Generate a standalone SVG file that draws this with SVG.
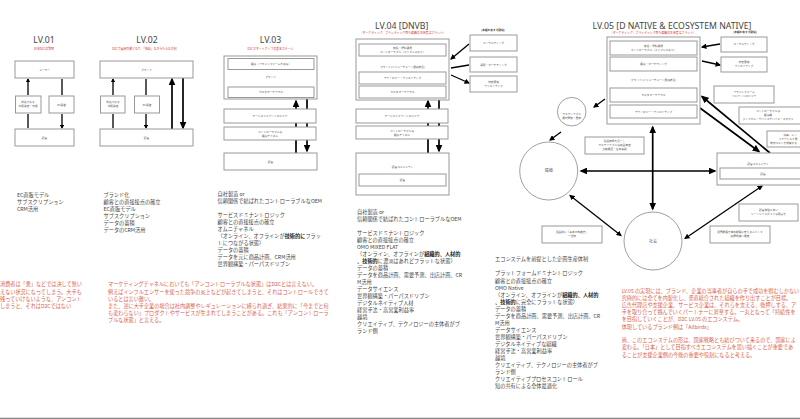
<svg xmlns="http://www.w3.org/2000/svg" width="800" height="419" viewBox="0 0 800 419">
<style>
text{font-family:"Noto Sans CJK JP","Noto Sans",sans-serif}
.t{font-size:8.7px;fill:#444;text-anchor:middle;font-family:"Noto Sans","Noto Sans CJK JP",sans-serif}
.s{font-size:2.9px;fill:#d0342c;text-anchor:middle}
.l{font-size:5.2px;fill:#444}
.r{font-size:5.15px;fill:#d8604a}
.b{font-size:2.7px;fill:#555;text-anchor:middle}
.h{font-size:2.7px;fill:#333;text-anchor:middle;font-weight:700}
.n rect{fill:#fff;stroke:#999;stroke-width:1}
circle.c{fill:#fff;stroke:#777;stroke-width:.7}
.bd{font-weight:700;fill:#222}
.a1{stroke:#000;stroke-width:1.3;fill:none;marker-start:url(#hs);marker-end:url(#hs)}
.a2{stroke:#000;stroke-width:1.3;fill:none;marker-start:url(#hm);marker-end:url(#hm)}
.a3{stroke:#000;stroke-width:1.7;fill:none}
.up{marker-end:url(#hl)}
.st{marker-start:url(#hl)}
</style>
<defs>
<marker id="hs" viewBox="0 0 10 10" refX="8" refY="5" markerUnits="userSpaceOnUse" markerWidth="4" markerHeight="4.6" orient="auto-start-reverse" preserveAspectRatio="none"><path d="M0 0L10 5L0 10Z"/></marker>
<marker id="hm" viewBox="0 0 10 10" refX="8" refY="5" markerUnits="userSpaceOnUse" markerWidth="5.5" markerHeight="5.5" orient="auto-start-reverse" preserveAspectRatio="none"><path d="M0 0L10 5L0 10Z"/></marker>
<marker id="hl" viewBox="0 0 10 10" refX="8" refY="5" markerUnits="userSpaceOnUse" markerWidth="8" markerHeight="7" orient="auto-start-reverse" preserveAspectRatio="none"><path d="M0 0L10 5L0 10Z"/></marker>
</defs>
<rect width="800" height="419" fill="#fff"/>

<g id="connectors">
<path class="a1" d="M28 79V95M62 79V95M28 114V128M62 114V128"/>
<path class="a1" d="M113 79V95M146 79V95M113 114V128M146 114V128"/>
<path class="a3 up" d="M172 129V79"/>
<path class="a3 up" d="M183 78V128"/>
<path class="a3 up" d="M296 153V101"/>
<path class="a3 up" d="M307 99V151"/>
<path class="a3 up" d="M428 153V101"/>
<path class="a3 up" d="M439 100V151"/>
<path class="a2" d="M451 59L469 44M451 68L469 65M451 75L469 83"/>
<path class="a2" d="M594 107L605 99M561 132L550 140"/>
<path class="a2" d="M702 47L720 44M702 61L720 65"/>
<path class="a3 st" d="M702 96.500L770 153"/>
<path class="a3 up" d="M700 108L759 151.500"/>
<path class="a3 st up" d="M581 171H715"/>
<path class="a3 st up" d="M652.700 127V209"/>
<path class="a2" d="M570 195.500L621 235.500"/>
<path class="a2" d="M685 238.500L762 186"/>
</g>

<g id="lv01">
<text class="t" x="44" y="43">LV.01</text>
<text class="s" x="44" y="50">日本D2Cの黎明</text>
<g id="lv01-maker" class="n"><rect x="15" y="61" width="59" height="17"/><text class="b" x="44.500" y="70.500">メーカー</text></g>
<g id="lv01-retail" class="n"><rect x="15.500" y="96" width="25.500" height="17"/><text class="b" x="28" y="103">卸先である</text><text class="b" x="28" y="107">中間業者・流通</text></g>
<g id="lv01-ec" class="n"><rect x="49" y="96" width="25" height="17"/><text class="b" x="61.500" y="105.500">EC運営</text></g>
<g id="lv01-customer" class="n"><rect x="15" y="129" width="59" height="17"/><text class="b" x="44.500" y="138.500">顧客</text></g>
<text class="l"><tspan x="17" y="196.500">EC直販モデル</tspan><tspan x="17" y="204">サブスクリプション</tspan><tspan x="17" y="211">CRM活用</tspan></text>
<text class="r"><tspan x="0" y="286">消費者は「悪」などでは決して無い</tspan><tspan x="0" y="293.500">えない状況になってしまう。大手も</tspan><tspan x="0" y="300.500">残っていけないような、アンコント</tspan><tspan x="0" y="307.500">しまうと、それはD2Cではない</tspan></text>
</g>

<g id="lv02">
<text class="t" x="147" y="43">LV.02</text>
<text class="s" x="144.500" y="50">D2Cで展開可能となり、「独自」ながらもんな方向</text>
<g id="lv02-brand" class="n"><rect x="100" y="61" width="93" height="17"/><text class="b" x="146.500" y="70.500">ブランド</text></g>
<g id="lv02-retail" class="n"><rect x="100.500" y="96" width="24.500" height="17"/><text class="b" x="113" y="103">卸先である</text><text class="b" x="113" y="107">中間業者</text></g>
<g id="lv02-ec" class="n"><rect x="134.500" y="96" width="25" height="17"/><text class="b" x="147" y="105.500">EC運営</text></g>
<g id="lv02-customer" class="n"><rect x="100" y="129" width="93" height="17"/><text class="b" x="146.500" y="138.500">顧客</text></g>
<text class="l"><tspan x="103.500" y="197">ブランド化</tspan><tspan x="103.500" y="204">顧客との直接接点の確立</tspan><tspan x="103.500" y="211">EC直販モデル</tspan><tspan x="103.500" y="218">サブスクリプション</tspan><tspan x="103.500" y="225">データの蓄積</tspan><tspan x="103.500" y="232">データのCRM活用</tspan></text>
<text class="r"><tspan x="108" y="286">マーケティングチャネルにおいても「アンコントローラブルな状態」はD2Cとは言えない。</tspan><tspan x="108" y="293.500">例えばインフルエンサーを使った競争の炎上などが起きてしまうと、それはコントロールできて</tspan><tspan x="108" y="300.500">いるとは言い難い。</tspan><tspan x="108" y="307.500">また、逆に大手企業の場合は社内調整やレギュレーションに縛られ過ぎ、結果的に「今までと何</tspan><tspan x="108" y="314.500">も変わらない」プロダクトやサービスが生まれてしまうことがある。これも「アンコントローラ</tspan><tspan x="108" y="322">ブルな状態」と言える。</tspan></text>
</g>

<g id="lv03">
<text class="t" x="270.500" y="43">LV.03</text>
<text class="s" x="270.500" y="50">D2Cスタートアップの基本ステージ</text>
<g id="lv03-brand" class="n"><rect x="224" y="56" width="93" height="43"/><text class="b" x="270.500" y="78">ブランド</text></g>
<g id="lv03-sales" class="n"><rect x="228" y="58.500" width="86" height="11"/><text class="b" x="271" y="65">販売（プラットフォーム不適な）</text></g>
<g id="lv03-cs" class="n"><rect x="228" y="87" width="86" height="10.500"/><text class="b" x="271" y="93">カスタマーサクセス</text></g>
<g id="lv03-sdl" class="n"><rect x="224" y="109" width="92" height="14"/><text class="b" x="270" y="117">サービスドミナントロジック</text></g>
<g id="lv03-channel" class="n"><rect x="224" y="127" width="92" height="13"/><text class="b" x="270" y="132.500">コントローラブルな</text><text class="b" x="270" y="136.500">販売チャネル</text></g>
<g id="lv03-customer" class="n"><rect x="224" y="153" width="93" height="17"/><text class="b" x="270.500" y="162.500">顧客</text></g>
<text class="l"><tspan x="217.500" y="196">自社製造 or</tspan><tspan x="217.500" y="203">信頼関係で結ばれたコントローラブルなOEM</tspan><tspan x="217.500" y="216.800">サービスドミナントロジック</tspan><tspan x="217.500" y="224">顧客との直接接点の確立</tspan><tspan x="217.500" y="231">オムニチャネル</tspan><tspan x="217.500" y="238.300">（オンライン、オフラインが<tspan class="bd">技術的に</tspan>フラッ</tspan><tspan x="217.500" y="245.300">トにつながる状態）</tspan><tspan x="217.500" y="252.300">データの蓄積</tspan><tspan x="217.500" y="259.300">データを元に商品計画、CRM活用</tspan><tspan x="217.500" y="266.300">世界観構築・パーパスドリブン</tspan></text>
</g>

<g id="lv04">
<text class="t" x="401.700" y="28.500">LV.04 [DNVB]</text>
<text class="s" x="402.700" y="34">（マーケティング、ブランディング面も組織の主体者はブランド）</text>
<g id="lv04-brand" class="n"><rect x="356" y="39" width="93" height="61"/><text class="b" x="402.500" y="68">ブランド(バリューチェーン最適統合)</text></g>
<g id="lv04-source" class="n"><rect x="359" y="44" width="87" height="12"/><text class="b" x="402.500" y="49">取扱・原料調達</text><text class="b" x="402.500" y="53">コントローラブル（ファブレスあり）</text></g>
<g id="lv04-tech" class="n"><rect x="359" y="72" width="87" height="12"/><text class="b" x="402.500" y="79">テクノロジー・クリエイティブ</text></g>
<g id="lv04-cs" class="n"><rect x="359" y="86" width="87" height="12"/><text class="b" x="402.500" y="93">カスタマーサクセス</text></g>
<g id="lv04-sdl" class="n"><rect x="356" y="109" width="92" height="14"/><text class="b" x="402" y="117">サービスドミナントロジック</text></g>
<g id="lv04-channel" class="n"><rect x="356" y="126" width="92" height="13"/><text class="b" x="402" y="131.500">コントローラブルな</text><text class="b" x="402" y="135.500">販売チャネル</text></g>
<g id="lv04-community" class="n"><rect x="356" y="153" width="93" height="42"/><text class="b" x="402.500" y="168">顧客コミュニティ</text></g>
<g id="lv04-customer" class="n"><rect x="359" y="174" width="87" height="12"/><text class="b" x="402.500" y="181">顧客</text></g>
<text class="h" x="493" y="31">(実績を有する領域)</text>
<g id="lv04-consult" class="n"><rect x="470" y="35" width="47" height="16"/><text class="b" x="493.500" y="44">コンサルティング</text></g>
<g id="lv04-marketing" class="n"><rect x="470" y="57" width="47" height="15"/><text class="b" x="493.500" y="65.500">運用・マーケティング</text></g>
<g id="lv04-creative" class="n"><rect x="470" y="76" width="47" height="16"/><text class="b" x="493.500" y="83">特定領域</text><text class="b" x="493.500" y="87">クリエイティブ</text></g>
<text class="l"><tspan x="357" y="213.600">自社製造 or</tspan><tspan x="357" y="221">信頼関係で結ばれたコントローラブルなOEM</tspan><tspan x="357" y="235">サービスドミナントロジック</tspan><tspan x="357" y="242">顧客との直接接点の確立</tspan><tspan x="357" y="249">OMO MIXED FLAT</tspan><tspan x="357" y="256">（オンライン、オフラインが<tspan class="bd">組織的、人材的</tspan></tspan><tspan x="357" y="263"><tspan class="bd">、技術的</tspan>に濃淡はあれどフラットな状態）</tspan><tspan x="357" y="270">データの蓄積</tspan><tspan x="357" y="277">データを商品計画、需要予測、出店計画、CR</tspan><tspan x="357" y="284">M活用</tspan><tspan x="357" y="291">データサイエンス</tspan><tspan x="357" y="298">世界観構築・パーパスドリブン</tspan><tspan x="357" y="305">デジタルネイティブ人材</tspan><tspan x="357" y="312">経営手法・高営業利益率</tspan><tspan x="357" y="319">越境</tspan><tspan x="357" y="326">クリエイティブ、テクノロジーの主体者がブ</tspan><tspan x="357" y="333">ランド側</tspan></text>
</g>

<g id="lv05">
<text class="t" x="672" y="28.500">LV.05 [D NATIVE &amp; ECOSYSTEM NATIVE]</text>
<text class="s" x="653" y="34">（マーケティング、ブランディング面も組織の主体者はブランド）</text>
<g id="lv05-brand" class="n"><rect x="607" y="37" width="93" height="87"/><text class="b" x="653.500" y="81">ブランド (バリューチェーン最適統合)</text></g>
<g id="lv05-source" class="n"><rect x="610" y="41" width="87" height="14"/><text class="b" x="653.500" y="47">取扱・原料調達</text><text class="b" x="653.500" y="51">コントローラブル（ファブレスあり）</text></g>
<g id="lv05-marketing" class="n"><rect x="610" y="57" width="87" height="14"/><text class="b" x="653.500" y="65">販売・マーケティング</text></g>
<g id="lv05-cs" class="n"><rect x="610" y="88" width="87" height="14"/><text class="b" x="653.500" y="96">カスタマーサクセス</text></g>
<g id="lv05-tech" class="n"><rect x="610" y="105" width="87" height="13"/><text class="b" x="653.500" y="112.500">テクノロジー・クリエイティブ</text></g>
<text class="h" x="745" y="33">(実績を有する領域)</text>
<g id="lv05-consult" class="n"><rect x="721" y="37" width="46" height="15"/><text class="b" x="744" y="45">コンサルティング</text></g>
<g id="lv05-creative" class="n"><rect x="721" y="57" width="46" height="15"/><text class="b" x="744" y="63">特定領域</text><text class="b" x="744" y="67">クリエイティブ</text></g>
<g id="lv05-platform" class="n"><rect x="714" y="86" width="60" height="17"/><text class="b" x="744" y="93">プラットフォーム</text><text class="b" x="744" y="97">ドミナントロジック</text></g>
<g id="lv05-channel" class="n"><rect x="739" y="107" width="70" height="17"/><text class="b" x="768" y="112">コントローラブルな</text><text class="b" x="768" y="116">販売網</text><text class="b" x="768" y="120">フィジカル・デバイスデバイス・スマホッ</text></g>
<g id="lv05-dx" class="n"><rect x="767" y="131" width="50" height="16"/><text class="b" x="790" y="136">決裁、メン</text><text class="b" x="788" y="140">キアクトスと買</text><text class="b" x="783.500" y="144">物流コストを削減する</text></g>
<g id="lv05-community" class="n"><rect x="717" y="153" width="95" height="32"/><text class="b" x="758" y="165">顧客コミュニティ</text></g>
<g id="lv05-customer" class="n"><rect x="720" y="168" width="90" height="11"/><text class="b" x="763" y="174.500">顧客</text></g>
<g id="sustain"><circle class="c" cx="571.700" cy="111.700" r="14.300"/><text class="b" x="571.700" y="115">サスティナブル</text><text class="b" x="571.700" y="119">素材野菜・農家</text></g>
<g id="env"><circle class="c" cx="548.700" cy="171" r="29"/><text class="b" x="548.700" y="172" style="font-size:4px">環境</text></g>
<g id="society"><circle class="c" cx="653" cy="241" r="29"/><text class="b" x="653" y="242.500" style="font-size:4px">社会</text></g>
<g id="note-life" class="n"><rect x="585" y="137" width="59" height="17"/><text class="b" x="614.500" y="142">製品寿命を長くし</text><text class="b" x="614.500" y="146">サステイナブルな商品価値</text><text class="b" x="614.500" y="150">比較検証・生産実績</text></g>
<g id="note-base" class="n"><rect x="542" y="226" width="60" height="17"/><text class="b" x="572" y="233">製品的に「基本の仲維持」</text><text class="b" x="572" y="237">一貫康</text></g>
<g id="note-social" class="n"><rect x="739" y="204" width="59" height="17"/><text class="b" x="768.500" y="211">顧客体験に良い</text><text class="b" x="768.500" y="215">シーンシャルグッドな用途を</text></g>
<g id="note-waste" class="n"><rect x="710" y="226" width="60" height="17"/><text class="b" x="740" y="233">保管期限を有効期限に変えることして</text><text class="b" x="740" y="237">廃棄削減へ貢献</text></g>
<text class="l"><tspan x="495" y="261">エコシステムを前提とした企画生産体制</tspan><tspan x="495" y="275">プラットフォームドミナントロジック</tspan><tspan x="495" y="282.600">顧客との直接接点の確立</tspan><tspan x="495" y="290">OMO Native</tspan><tspan x="495" y="296.700">（オンライン、オフラインが<tspan class="bd">組織的、人材的</tspan></tspan><tspan x="495" y="303.700"><tspan class="bd">、技術的</tspan>に完全にフラットな状態）</tspan><tspan x="495" y="310.700">データの蓄積</tspan><tspan x="495" y="317.700">データを商品計画、需要予測、出店計画、CR</tspan><tspan x="495" y="324.700">M活用</tspan><tspan x="495" y="331.700">データサイエンス</tspan><tspan x="495" y="338.700">世界観構築・パーパスドリブン</tspan><tspan x="495" y="345.700">デジタルネイティブな組織</tspan><tspan x="495" y="352.700">経営手法・高営業利益率</tspan><tspan x="495" y="359.700">越境</tspan><tspan x="495" y="366.700">クリエイティブ、テクノロジーの主体者がブ</tspan><tspan x="495" y="373.700">ランド側</tspan><tspan x="495" y="380.700">クリエイティブプロセスコントロール</tspan><tspan x="495" y="388">知の共有による全体最適化</tspan></text>
<text class="r"><tspan x="621.700" y="293.300">LV.05 の実現には、ブランド、企業の当事者が自らの手で成功を掴むしかない</tspan><tspan x="621.700" y="300">究極的には全てを内製化し、垂直統合された組織を作り出すことが目標。</tspan><tspan x="621.700" y="307.300">広告代理店や支援企業、サービス企業は、それらを支える、後押しする、ア</tspan><tspan x="621.700" y="314.300">手を取り合って挑んでいくパートナーに昇華する。一丸となって「持続性を</tspan><tspan x="621.700" y="321.300">を目指していくことが、D2C LV.05 のエコシステム。</tspan><tspan x="621.700" y="328.700">体現しているブランド例は「Allbirds」</tspan><tspan x="621.700" y="342.300">尚、このエコシステムの形は、国家戦略とも結びついて来るので、国家によ</tspan><tspan x="621.700" y="349.300">変わる。「日本」として目指すべきエコシステムを思い描くことが重要であ</tspan><tspan x="621.700" y="356.700">ることが支援企業側の今後の重要や役割になると考える。</tspan></text>
</g>
<rect x="0" y="417.700" width="800" height="1.300" fill="#8a8a8a"/>
</svg>
